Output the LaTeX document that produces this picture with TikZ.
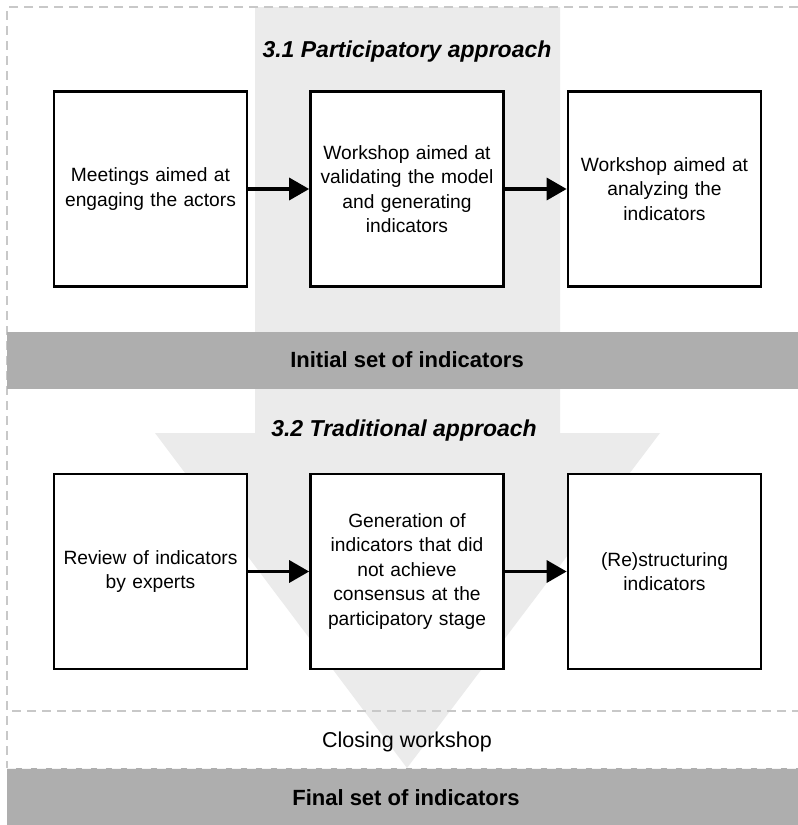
\documentclass[tikz,border=0pt]{standalone}
\usepackage{fontspec}
\setmainfont{Liberation Sans}
\usetikzlibrary{arrows.meta}
\definecolor{lightband}{HTML}{EBEBEB}
\definecolor{darkband}{HTML}{AEAEAE}
\definecolor{dashgray}{HTML}{C8C8C8}
\tikzset{
  stepbox/.style={draw=black, line width=2.7pt, fill=white, minimum width=193pt, minimum height=195pt, inner sep=0pt, align=center, text width=185pt, font=\fontsize{19.2}{24.5}\selectfont},
  flowarrow/.style={line width=3.4pt, -{Triangle[length=20pt,width=22pt]}},
  titletext/.style={font=\fontsize{23}{27}\selectfont\bfseries\itshape, inner sep=0pt},
  bandtext/.style={font=\fontsize{22}{26}\selectfont\bfseries, inner sep=0pt},
  darkbar/.style={fill=darkband, draw=none, minimum width=791pt, minimum height=57pt, inner sep=0pt},
  dashline/.style={draw=dashgray, line width=1.2pt, dash pattern=on 9pt off 6pt},
}
\begin{document}
\begin{tikzpicture}[x=1pt,y=-1pt]
\useasboundingbox (0,0) rectangle (798,825);
\fill[white] (0,0) rectangle (798,825);
% big light arrow
\fill[lightband] (255,7) -- (560,7) -- (560,433) -- (660,433) -- (407,768) -- (155,433) -- (255,433) -- cycle;
% dashed frame
\draw[dashline] (798,7) -- (7,7) -- (7,768);
\draw[dashline] (12,711) -- (798,711);
% initial band
\node[darkbar] (initbar) at (402.5,360.5) {};
\node[bandtext] (inittext) at (407,360) {Initial set of indicators};
% titles
\node[titletext] (t31) at (407,52) {3.1 Participatory approach};
\node[titletext] (t32) at (404,431) {3.2 Traditional approach};
% top boxes
\node[stepbox] (b1) at (150.5,189) {Meetings aimed at\\engaging the actors};
\node[stepbox] (b2) at (407,189) {Workshop aimed at\\validating the model\\and generating\\indicators};
\node[stepbox] (b3) at (664.5,189) {Workshop aimed at\\analyzing the\\indicators};
\draw[flowarrow] (b1.east) -- (b2.west);
\draw[flowarrow] (b2.east) -- (b3.west);
% bottom boxes
\node[stepbox] (c1) at (150.5,571.5) {Review of indicators\\by experts};
\node[stepbox] (c2) at (407,571.5) {Generation of\\indicators that did\\not achieve\\consensus at the\\participatory stage};
\node[stepbox] (c3) at (664.5,571.5) {(Re)structuring\\indicators};
\draw[flowarrow] (c1.east) -- (c2.west);
\draw[flowarrow] (c2.east) -- (c3.west);
% closing
\node[font=\fontsize{21.5}{26}\selectfont, inner sep=0pt] (closing) at (407,742) {Closing workshop};
% final band
\node[darkbar, minimum height=57pt] (finalbar) at (402.5,796.5) {};
\draw[draw=white!85!darkband, line width=1pt, dash pattern=on 9pt off 6pt] (7,768) -- (798,768);
\node[bandtext] (finaltext) at (406,798) {Final set of indicators};
\end{tikzpicture}
\end{document}
